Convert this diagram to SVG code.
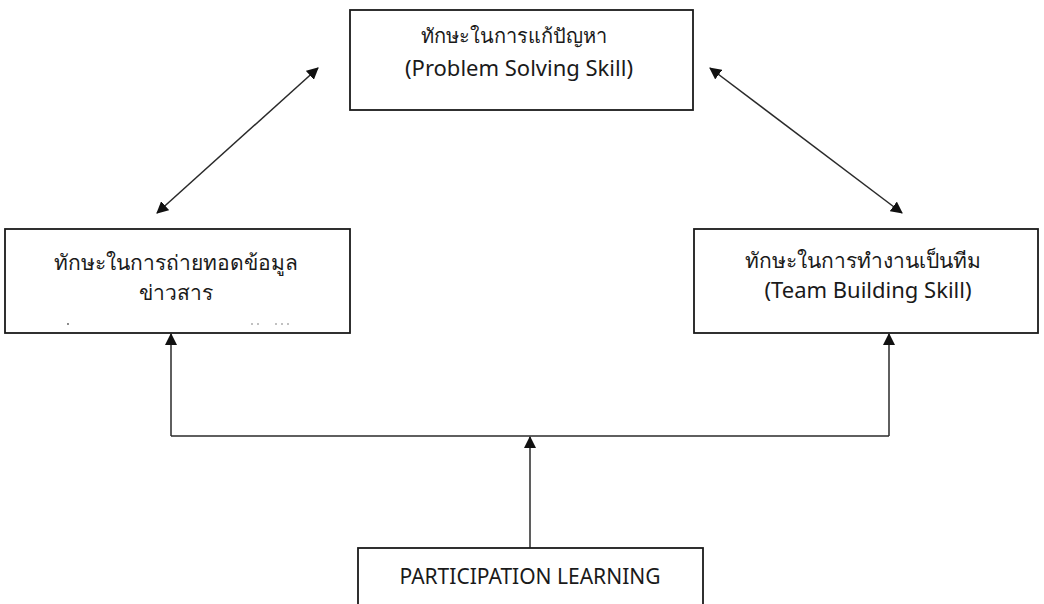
<svg xmlns="http://www.w3.org/2000/svg" width="1044" height="604" viewBox="0 0 1044 604">
  <style>
    .box { fill: #ffffff; stroke: #1a1a1a; stroke-width: 1.8; }
    .label { font-family: "Noto Sans", "DejaVu Sans", "Liberation Sans", sans-serif; fill: #1a1a1a; text-anchor: middle; }
    .th { font-size: 21px; }
    .en { font-size: 22px; }
    .caps { font-size: 21px; }
    .conn { fill: none; stroke: #2a2a2a; stroke-width: 1.5; }
    .speck { fill: #555555; }
  </style>
  <defs>
    <marker id="arrow" viewBox="0 0 12 12" refX="11" refY="6" markerWidth="12" markerHeight="12" markerUnits="userSpaceOnUse" orient="auto-start-reverse">
      <path d="M0,0 L12,6 L0,12 Z" fill="#111111"/>
    </marker>
  </defs>

  <rect width="1044" height="604" fill="#ffffff"/>

  <!-- connectors -->
  <g id="connectors">
    <line class="conn" x1="157" y1="213" x2="318" y2="68" marker-start="url(#arrow)" marker-end="url(#arrow)"/>
    <line class="conn" x1="710" y1="68" x2="902" y2="213" marker-start="url(#arrow)" marker-end="url(#arrow)"/>
    <polyline class="conn" points="171,436 889,436"/>
    <line class="conn" x1="171" y1="436" x2="171" y2="334" marker-end="url(#arrow)"/>
    <line class="conn" x1="889" y1="436" x2="889" y2="334" marker-end="url(#arrow)"/>
    <line class="conn" x1="530" y1="548" x2="530" y2="437" marker-end="url(#arrow)"/>
  </g>

  <!-- problem solving skill -->
  <g id="problem-solving">
    <rect class="box" x="350" y="10" width="343" height="100"/>
    <text class="label th" x="514" y="43" style="font-size:20px">ทักษะในการแก้ปัญหา</text>
    <text class="label en" x="519" y="76">(Problem Solving Skill)</text>
  </g>

  <!-- information transfer skill -->
  <g id="information-transfer">
    <rect class="box" x="5" y="229" width="345" height="104"/>
    <text class="label th" x="176" y="270">ทักษะในการถ่ายทอดข้อมูล</text>
    <text class="label th" x="176" y="300">ข่าวสาร</text>
    <circle class="speck" cx="68" cy="324" r="0.9"/>
    <circle class="speck" cx="252" cy="324" r="0.7"/>
    <circle class="speck" cx="258" cy="324" r="0.7"/>
    <circle class="speck" cx="276" cy="324" r="0.7"/>
    <circle class="speck" cx="282" cy="324" r="0.7"/>
    <circle class="speck" cx="288" cy="324" r="0.7"/>
  </g>

  <!-- team building skill -->
  <g id="team-building">
    <rect class="box" x="694" y="229" width="344" height="104"/>
    <text class="label th" x="863" y="268">ทักษะในการทำงานเป็นทีม</text>
    <text class="label en" x="868" y="298">(Team Building Skill)</text>
  </g>

  <!-- participation learning -->
  <g id="participation-learning">
    <rect class="box" x="358" y="548" width="345" height="70"/>
    <text class="label caps" x="530" y="584">PARTICIPATION LEARNING</text>
  </g>
</svg>
